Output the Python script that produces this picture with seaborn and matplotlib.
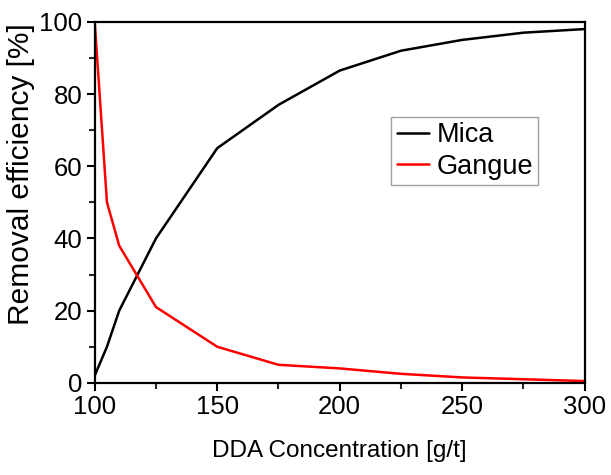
import matplotlib
matplotlib.use("Agg")
import matplotlib.pyplot as plt
import seaborn as sns
import pandas as pd
from matplotlib.ticker import MultipleLocator

conc = [100, 105, 110, 125, 150, 175, 200, 225, 250, 275, 300]
mica = [2, 10, 20, 40, 65, 77, 86.5, 92, 95, 97, 98]
gangue = [100, 50, 38, 21, 10, 5, 4, 2.5, 1.5, 1, 0.5]

df = pd.DataFrame({"conc": conc * 2,
                   "val": mica + gangue,
                   "series": ["Mica"] * len(conc) + ["Gangue"] * len(conc)})

sns.set_style("ticks")
plt.rcParams['font.family'] = ['Liberation Sans', 'DejaVu Sans']
plt.rcParams['text.color'] = 'black'
plt.rcParams['axes.labelcolor'] = 'black'

fig = plt.figure(figsize=(6.11, 4.75), dpi=100)
ax = fig.add_axes([0.155, 0.194, 0.802, 0.76])
sns.lineplot(data=df, x="conc", y="val", hue="series",
             palette={"Mica": "black", "Gangue": "#ff0000"},
             linewidth=1.8, ax=ax, sort=False, estimator=None)

ax.set_xlim(100, 300)
ax.set_ylim(0, 100)
ax.xaxis.set_major_locator(MultipleLocator(50))
ax.xaxis.set_minor_locator(MultipleLocator(25))
ax.yaxis.set_major_locator(MultipleLocator(20))
ax.yaxis.set_minor_locator(MultipleLocator(10))
ax.tick_params(which="major", direction="out", length=6, width=1.5,
               labelsize=18.5, colors="black", pad=3)
ax.tick_params(which="minor", direction="out", length=4, width=1.5)
for s in ax.spines.values():
    s.set_visible(True)
    s.set_linewidth(1.6)
    s.set_color("black")

ax.set_xlabel("DDA Concentration [g/t]", fontsize=17.5, labelpad=15)
ax.set_ylabel("Removal efficiency [%]", fontsize=21.5)
ax.yaxis.set_label_coords(-0.122, 0.579)

leg = ax.legend(loc="upper left", bbox_to_anchor=(0.605, 0.737),
                fontsize=19.5, frameon=True, fancybox=False,
                handlelength=1.2, handletextpad=0.27, borderpad=0.2,
                labelspacing=0.2, borderaxespad=0)
leg.get_frame().set_edgecolor("#888888")
leg.get_frame().set_linewidth(1.0)
leg.set_title(None)

fig.savefig("out.png", dpi=100)
